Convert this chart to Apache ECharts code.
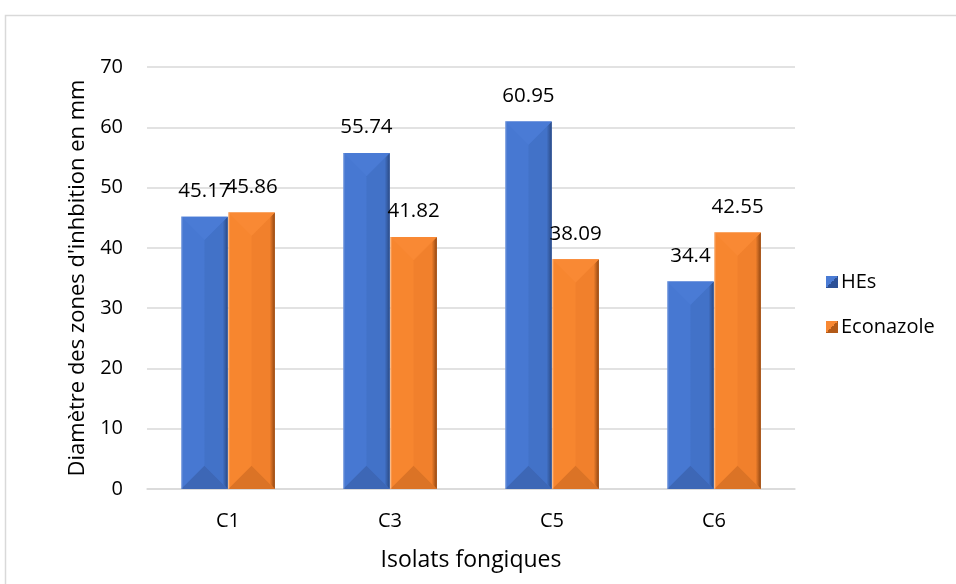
<!DOCTYPE html>
<html>
<head>
<meta charset="utf-8">
<script src="https://cdn.jsdelivr.net/npm/echarts@6/dist/echarts.min.js"></script>
<style>
  html, body { margin: 0; padding: 0; background: #ffffff; }
  #chart { width: 956px; height: 584px; }
</style>
</head>
<body>
<div id="chart"></div>
<script>
// Inhibition zone diameters (mm) per fungal isolate
const categories = ['C1', 'C3', 'C5', 'C6'];
const hesValues = [45.17, 55.74, 60.95, 34.4];
const econazoleValues = [45.86, 41.82, 38.09, 42.55];
const seriesNames = ['HEs', 'Econazole'];

const FONT = '"Open Sans", sans-serif';

// Facet colours for the bevelled bars
const palettes = [
  { left: '#4778d2', right: '#4272c8', edge: '#2b4a84', top: '#4a7bd5', bottom: '#3d67b6', legendA: '#4a7bd4', legendB: '#2c5197' },
  { left: '#f7862f', right: '#f1802c', edge: '#934712', top: '#f98934', bottom: '#db7326', legendA: '#f88833', legendB: '#b35a18' }
];

function bevelBar(seriesIndex) {
  const pal = palettes[seriesIndex];
  return function (params, api) {
    const catIdx = api.value(0);
    const val = api.value(1);
    const top = api.coord([catIdx, val]);
    const base = api.coord([catIdx, 0]);
    const catW = api.size([1, 0])[0];
    const bw = catW * 0.287;
    const cx0 = top[0];
    const x0 = seriesIndex === 0 ? cx0 - bw - 0.3 : cx0 + 0.3;
    const x1 = x0 + bw;
    const y0 = top[1];
    const y1 = base[1];
    const cx = (x0 + x1) / 2;
    const h = Math.min(bw / 2, (y1 - y0) / 2);
    const children = [
      { type: 'rect', shape: { x: x0, y: y0, width: bw, height: y1 - y0 }, style: { fill: pal.left } },
      { type: 'polygon', shape: { points: [[cx, y0 + h], [x1, y0], [x1, y1], [cx, y1 - h]] },
        style: { fill: {
          type: 'linear', x: 0, y: 0, x2: 1, y2: 0,
          colorStops: [
            { offset: 0, color: pal.right },
            { offset: 0.78, color: pal.right },
            { offset: 1, color: pal.edge }
          ] } } },
      { type: 'polygon', shape: { points: [[x0, y0], [x1, y0], [cx, y0 + h]] }, style: { fill: pal.top } },
      { type: 'polygon', shape: { points: [[x0, y1], [x1, y1], [cx, y1 - h]] }, style: { fill: pal.bottom } },
      { type: 'rect', shape: { x: x0, y: y0, width: 1.2, height: y1 - y0 }, style: { fill: 'rgba(255,255,255,0.25)' } },
      { type: 'text', style: {
          text: String(val), x: cx, y: y0 - 25.5,
          align: 'center', verticalAlign: 'middle',
          font: '20.5px ' + FONT, fill: '#000000' }, z2: 10 }
    ];
    return { type: 'group', children: children };
  };
}

function seriesData(values) {
  return values.map(function (v, i) { return [i, v]; });
}

const chart = echarts.init(document.getElementById('chart'), null, { renderer: 'canvas' });

chart.setOption({
  backgroundColor: '#ffffff',
  animation: false,
  textStyle: { fontFamily: FONT },
  graphic: [
    { type: 'rect', shape: { x: 5.5, y: 15.5, width: 1200, height: 1200 },
      style: { fill: 'none', stroke: '#d9d9d9', lineWidth: 1.5 }, silent: true }
  ],
  grid: { left: 147, right: 161, top: 67, bottom: 95 },
  legend: {
    orient: 'vertical',
    left: 821, top: 267,
    itemWidth: 12, itemHeight: 12, itemGap: 25,
    icon: 'rect',
    textStyle: { fontSize: 20, color: '#000000', fontFamily: FONT, padding: [0, 0, 0, -2] },
    data: seriesNames.map(function (n, i) {
      return { name: n, itemStyle: { color: {
        type: 'linear', x: 0, y: 0, x2: 1, y2: 1,
        colorStops: [
          { offset: 0, color: palettes[i].legendA },
          { offset: 0.5, color: palettes[i].legendA },
          { offset: 0.5, color: palettes[i].legendB },
          { offset: 1, color: palettes[i].legendB }
        ] } } };
    })
  },
  xAxis: {
    type: 'category',
    data: categories,
    name: 'Isolats fongiques',
    nameLocation: 'middle',
    nameGap: 60,
    nameTextStyle: { fontSize: 23, color: '#000000', fontFamily: FONT },
    axisLine: { lineStyle: { color: '#d9d9d9', width: 1.5 } },
    axisTick: { show: false },
    axisLabel: { fontSize: 20, color: '#000000', margin: 22, fontFamily: FONT }
  },
  yAxis: {
    type: 'value',
    min: 0, max: 70, interval: 10,
    name: "Diamètre des zones d'inhbition en mm",
    nameLocation: 'middle',
    nameGap: 58,
    nameTextStyle: { fontSize: 22, color: '#000000', fontFamily: FONT },
    axisLine: { show: false },
    axisTick: { show: false },
    splitLine: { lineStyle: { color: '#d9d9d9', width: 1.5 } },
    axisLabel: { fontSize: 20, color: '#000000', margin: 24, fontFamily: FONT }
  },
  series: [
    { name: seriesNames[0], type: 'custom', renderItem: bevelBar(0), data: seriesData(hesValues),
      itemStyle: { color: palettes[0].left }, encode: { x: 0, y: 1 }, z: 3 },
    { name: seriesNames[1], type: 'custom', renderItem: bevelBar(1), data: seriesData(econazoleValues),
      itemStyle: { color: palettes[1].left }, encode: { x: 0, y: 1 }, z: 3 }
  ]
});
</script>
</body>
</html>
